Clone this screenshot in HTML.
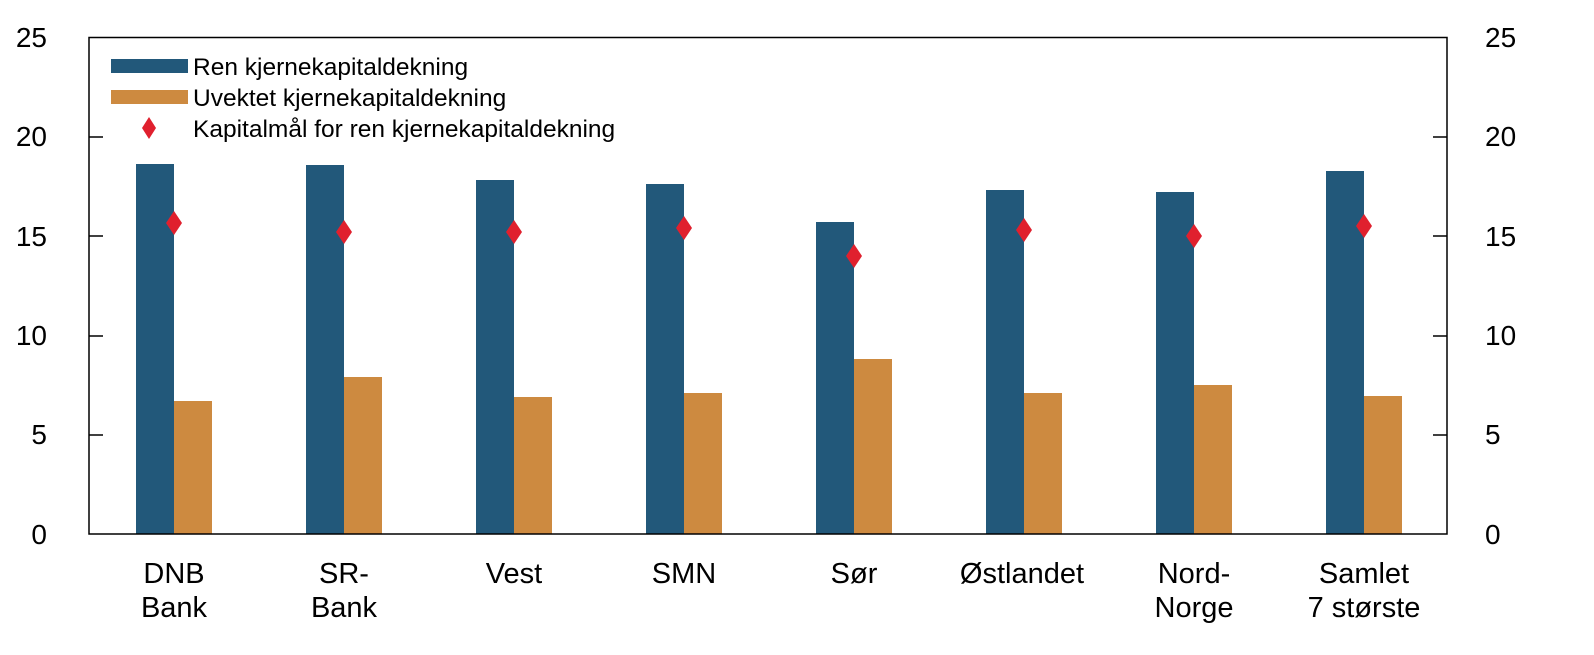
<!DOCTYPE html>
<html><head><style>body{margin:0;background:#fff}svg{display:block}text{font-family:"Liberation Sans",sans-serif;fill:#000}</style></head>
<body>
<svg width="1594" height="655" viewBox="0 0 1594 655">
<g font-size="28">
<text x="47" y="47" text-anchor="end">25</text>
<text x="47" y="146" text-anchor="end">20</text>
<text x="47" y="246" text-anchor="end">15</text>
<text x="47" y="345" text-anchor="end">10</text>
<text x="47" y="444" text-anchor="end">5</text>
<text x="47" y="544" text-anchor="end">0</text>
<text x="1485" y="47">25</text>
<text x="1485" y="146">20</text>
<text x="1485" y="246">15</text>
<text x="1485" y="345">10</text>
<text x="1485" y="444">5</text>
<text x="1485" y="544">0</text>
</g>
<g fill="#22587a">
<rect x="136" y="164" width="38" height="370"/>
<rect x="306" y="165" width="38" height="369"/>
<rect x="476" y="180" width="38" height="354"/>
<rect x="646" y="184" width="38" height="350"/>
<rect x="816" y="222" width="38" height="312"/>
<rect x="986" y="190" width="38" height="344"/>
<rect x="1156" y="192" width="38" height="342"/>
<rect x="1326" y="171" width="38" height="363"/>
</g>
<g fill="#cd8a40">
<rect x="174" y="401" width="38" height="133"/>
<rect x="344" y="377" width="38" height="157"/>
<rect x="514" y="397" width="38" height="137"/>
<rect x="684" y="393" width="38" height="141"/>
<rect x="854" y="359" width="38" height="175"/>
<rect x="1024" y="393" width="38" height="141"/>
<rect x="1194" y="385" width="38" height="149"/>
<rect x="1364" y="396" width="38" height="138"/>
</g>
<g fill="#e0202e">
<path d="M174 211 l8 12 l-8 12 l-8 -12z"/>
<path d="M344 220 l8 12 l-8 12 l-8 -12z"/>
<path d="M514 220 l8 12 l-8 12 l-8 -12z"/>
<path d="M684 216 l8 12 l-8 12 l-8 -12z"/>
<path d="M854 244 l8 12 l-8 12 l-8 -12z"/>
<path d="M1024 218 l8 12 l-8 12 l-8 -12z"/>
<path d="M1194 224 l8 12 l-8 12 l-8 -12z"/>
<path d="M1364 214 l8 12 l-8 12 l-8 -12z"/>
</g>
<rect x="89" y="37.5" width="1358" height="496.5" fill="none" stroke="#000" stroke-width="1.5"/>
<g stroke="#000" stroke-width="1.5">
<line x1="89" y1="137" x2="103" y2="137"/><line x1="89" y1="236" x2="103" y2="236"/><line x1="89" y1="336" x2="103" y2="336"/><line x1="89" y1="435" x2="103" y2="435"/>
<line x1="1433" y1="137" x2="1447" y2="137"/><line x1="1433" y1="236" x2="1447" y2="236"/><line x1="1433" y1="336" x2="1447" y2="336"/><line x1="1433" y1="435" x2="1447" y2="435"/>
</g>
<rect x="111" y="59" width="77" height="14" fill="#22587a"/>
<rect x="111" y="90" width="77" height="14" fill="#cd8a40"/>
<path d="M149 117 l7 11 l-7 11 l-7 -11z" fill="#e0202e"/>
<g font-size="24.5">
<text x="193" y="75">Ren kjernekapitaldekning</text>
<text x="193" y="106">Uvektet kjernekapitaldekning</text>
<text x="193" y="137">Kapitalmål for ren kjernekapitaldekning</text>
</g>
<g font-size="29" text-anchor="middle">
<text x="174" y="583">DNB</text><text x="174" y="617">Bank</text>
<text x="344" y="583">SR-</text><text x="344" y="617">Bank</text>
<text x="514" y="583">Vest</text>
<text x="684" y="583">SMN</text>
<text x="854" y="583">Sør</text>
<text x="1022" y="583">Østlandet</text>
<text x="1194" y="583">Nord-</text><text x="1194" y="617">Norge</text>
<text x="1364" y="583">Samlet</text><text x="1364" y="617">7 største</text>
</g>
</svg>
</body></html>
